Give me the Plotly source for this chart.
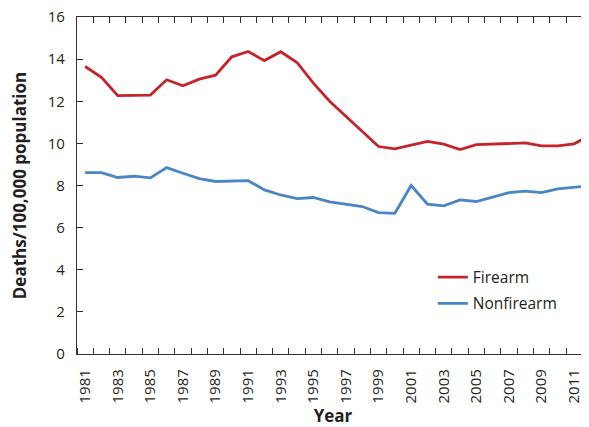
import plotly.graph_objects as go

years = list(range(1981, 2013))
firearm = [13.65, 13.14, 12.27, 12.29, 12.29, 13.02, 12.73, 13.05, 13.24, 14.11,
           14.36, 13.93, 14.35, 13.84, 12.86, 12.00, 11.27, 10.56, 9.85, 9.74,
           9.93, 10.09, 9.96, 9.71, 9.94, 9.96, 9.98, 10.02, 9.88, 9.88,
           9.98, 10.40]
nonfirearm = [8.61, 8.61, 8.38, 8.44, 8.36, 8.85, 8.58, 8.33, 8.19, 8.20,
              8.23, 7.79, 7.55, 7.38, 7.43, 7.22, 7.11, 7.00, 6.71, 6.68,
              8.00, 7.11, 7.03, 7.32, 7.24, 7.44, 7.66, 7.73, 7.66, 7.84,
              7.93, 7.99]
label_years = list(range(1981, 2012, 2))
boundaries = [y + 0.5 for y in range(1980, 2012)]
y_ticks = [0, 2, 4, 6, 8, 10, 12, 14, 16]

FONT = "Open Sans"
AX = "#333333"

fig = go.Figure()
fig.add_trace(go.Scatter(x=years, y=firearm, mode="lines", name="Firearm",
                         legendgroup="a",
                         line=dict(color="#C6242B", width=2.8)))
fig.add_trace(go.Scatter(x=years, y=nonfirearm, mode="lines", name="Nonfirearm",
                         legendgroup="b",
                         line=dict(color="#4A85C5", width=2.8)))
# invisible trace to activate top axis
fig.add_trace(go.Scatter(x=[1990], y=[0], xaxis="x2", mode="none",
                         showlegend=False, hoverinfo="skip"))

fig.update_layout(
    width=581, height=419,
    margin=dict(l=69, r=0, t=9, b=73, autoexpand=False),
    paper_bgcolor="white", plot_bgcolor="white",
    font=dict(family=FONT, size=15, color="#231f20"),
    showlegend=True,
    legend=dict(x=0.695, y=0.188, xanchor="left", yanchor="middle",
                bgcolor="rgba(0,0,0,0)", font=dict(size=15.5),
                itemwidth=30, tracegroupgap=3),
    xaxis=dict(
        range=[1980.5, 1980.5 + 512 / 16.3],
        tickvals=label_years, ticktext=[str(y) for y in label_years],
        tickangle=-90, ticks="", ticklen=0,
        showline=True, linecolor=AX, linewidth=1.4,
        showgrid=False, zeroline=False, automargin=False,
        ticklabeloverflow="allow",
        minor=dict(tickvals=boundaries, ticks="inside", ticklen=6,
                   tickcolor=AX, tickwidth=1.3, showgrid=False),
        ticklabelstandoff=8,
        title=dict(text="<b>Year</b>", font=dict(size=17), standoff=12),
    ),
    xaxis2=dict(
        overlaying="x", side="top", matches="x",
        tickvals=boundaries, showticklabels=False,
        ticks="inside", ticklen=6, tickcolor=AX, tickwidth=1.3,
        showline=True, linecolor=AX, linewidth=1.4,
        showgrid=False, zeroline=False, automargin=False,
    ),
    yaxis=dict(
        range=[0, 16], tickvals=y_ticks,
        ticks="inside", ticklen=6, tickcolor=AX, tickwidth=1.3,
        showline=True, linecolor=AX, linewidth=1.4,
        showgrid=False, zeroline=False, automargin=False,
        ticklabeloverflow="allow",
        ticklabelstandoff=8,
        title=dict(text="<b>Deaths/100,000 population</b>", font=dict(size=17), standoff=16),
    ),
)

fig.write_html("out.html")
